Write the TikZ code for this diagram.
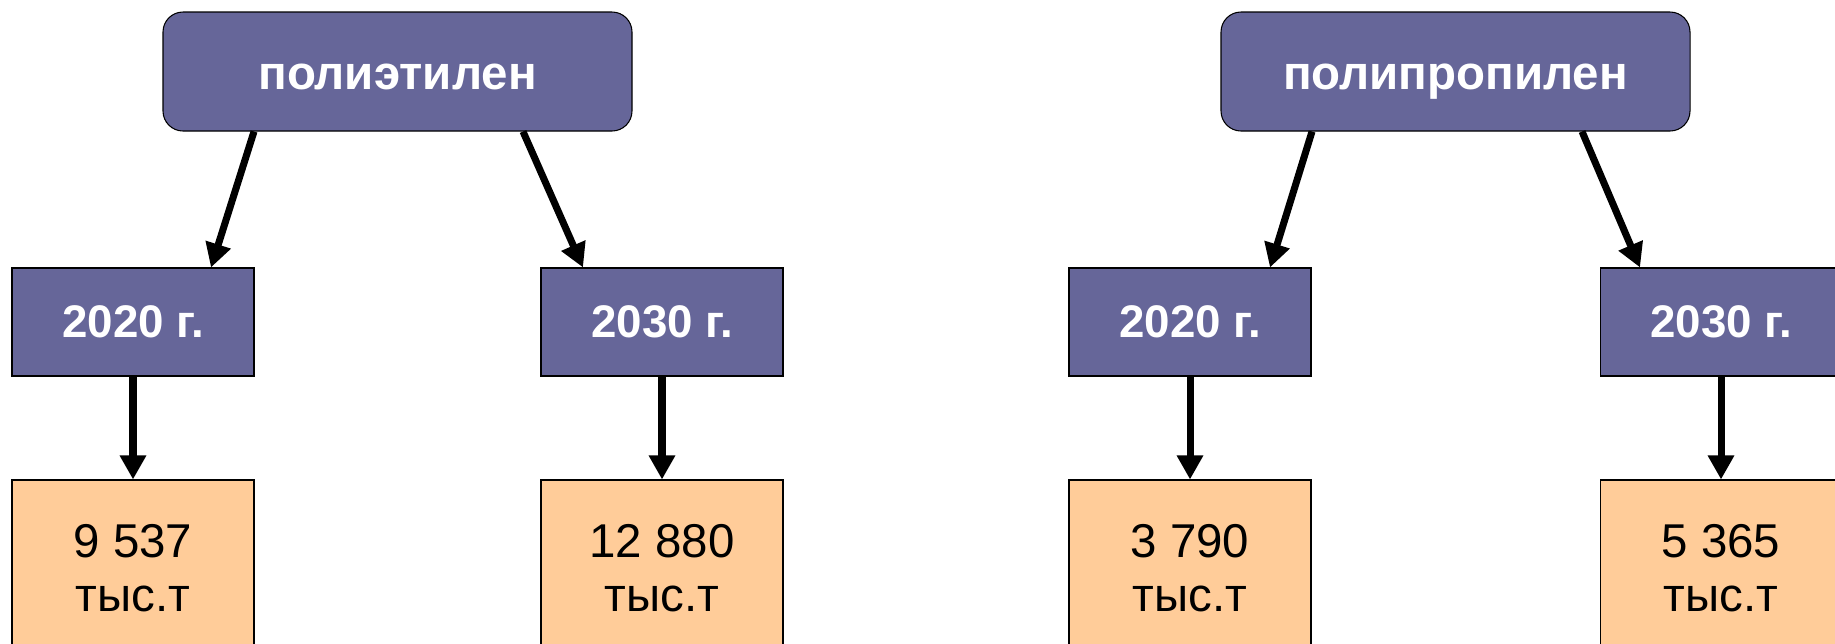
\documentclass[tikz,border=0pt]{standalone}
\usepackage{fontspec}
\setmainfont{Liberation Sans}
\usetikzlibrary{arrows.meta}
\definecolor{plum}{RGB}{102,102,153}
\definecolor{peach}{RGB}{255,204,153}
\tikzset{
  topbox/.style={draw=black,line width=0.6pt,fill=plum,rounded corners=0.4cm,minimum width=9.38cm,minimum height=2.38cm,inner sep=0pt,text height=0.9cm,text depth=0.2cm,text=white,font=\fontsize{27}{32}\selectfont\bfseries},
  yearbox/.style={draw=black,line width=0.6pt,fill=plum,minimum width=4.84cm,minimum height=2.16cm,inner sep=0pt,text=white,font=\fontsize{26}{31}\selectfont\bfseries},
  valbox/.style={draw=black,line width=0.6pt,fill=peach,minimum width=4.84cm,minimum height=3.52cm,inner sep=0pt,align=center,font=\fontsize{27}{31}\selectfont},
  arr/.style={line width=4pt,-{Triangle[width=0.5cm,length=0.48cm]}}
}
\begin{document}
\begin{tikzpicture}[x=1cm,y=1cm]
		\useasboundingbox (0,0) rectangle (36.7,-12.86);
		% polyethylene
		\node[topbox] (pe) at (7.95,-1.43) {полиэтилен};
		\node[yearbox] (pe20) at (2.66,-6.44) {2020 г.};
		\node[yearbox] (pe30) at (13.24,-6.44) {2030 г.};
		\node[valbox] (pe20v) at (2.66,-11.36) {9 537\\тыс.т};
		\node[valbox] (pe30v) at (13.24,-11.36) {12 880\\тыс.т};
		% polypropylene
		\node[topbox] (pp) at (29.11,-1.43) {полипропилен};
		\node[yearbox] (pp20) at (23.8,-6.44) {2020 г.};
		\node[yearbox] (pp30) at (34.42,-6.44) {2030 г.};
		\node[valbox] (pp20v) at (23.8,-11.36) {3 790\\тыс.т};
		\node[valbox] (pp30v) at (34.42,-11.36) {5 365\\тыс.т};
		% arrows
		\draw[arr] ([xshift=-2.87cm]pe.south) -- ([xshift=1.56cm]pe20.north);
		\draw[arr] ([xshift=2.51cm]pe.south) -- ([xshift=-1.58cm]pe30.north);
		\draw[arr] ([xshift=-2.87cm]pp.south) -- ([xshift=1.6cm]pp20.north);
		\draw[arr] ([xshift=2.53cm]pp.south) -- ([xshift=-1.62cm]pp30.north);
		\draw[arr] (pe20.south) -- (pe20v.north);
		\draw[arr] (pe30.south) -- (pe30v.north);
		\draw[arr] (pp20.south) -- (pp20v.north);
		\draw[arr] (pp30.south) -- (pp30v.north);
\end{tikzpicture}
\end{document}
